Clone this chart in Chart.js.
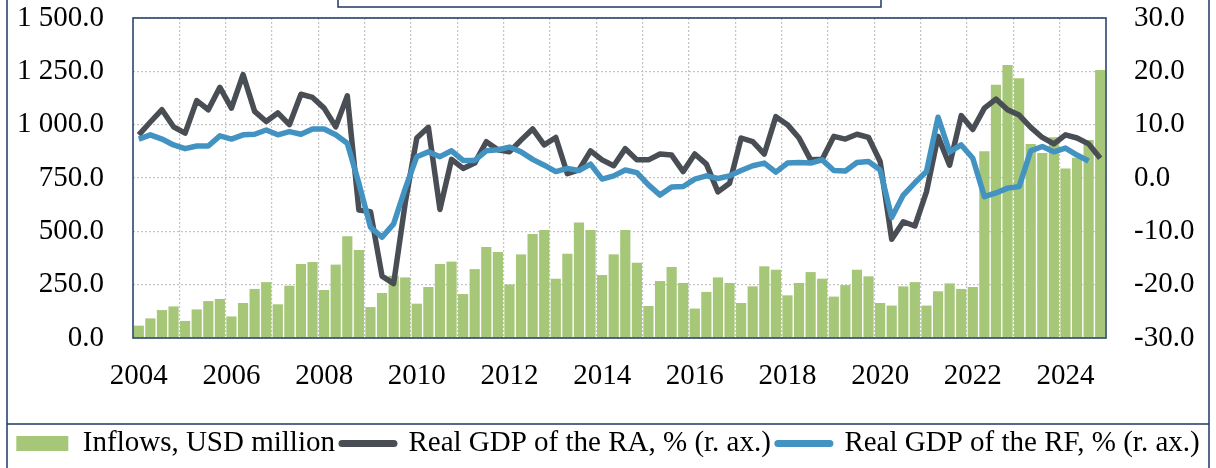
<!DOCTYPE html>
<html>
<head>
<meta charset="utf-8">
<script src="https://cdn.jsdelivr.net/npm/chart.js@4.4.1/dist/chart.umd.min.js"></script>
<style>
  body { margin: 0; background: #fff; }
  #wrap { width: 1216px; height: 468px; }
</style>
</head>
<body>
<div id="wrap"><canvas id="myChart" width="1216" height="468"></canvas></div>
<script>
// years shown on the axis, one category per quarter
var years = [2004, 2005, 2006, 2007, 2008, 2009, 2010, 2011, 2012, 2013, 2014,
             2015, 2016, 2017, 2018, 2019, 2020, 2021, 2022, 2023, 2024];

// Inflows, USD million (left axis)
var inflows = [
  58, 92, 131, 148,     80, 134, 173, 183,    101, 164, 230, 262,
  158, 245, 347, 356,   225, 344, 477, 412,   145, 211, 292, 284,
  161, 239, 347, 358,   206, 323, 427, 403,   251, 392, 487, 506,
  278, 395, 541, 506,   295, 392, 506, 353,   150, 267, 333, 258,
  138, 216, 284, 258,   164, 242, 336, 320,   200, 258, 309, 278,
  194, 248, 320, 289,   164, 152, 242, 262,   152, 219, 256, 230,
  239, 875, 1187, 1280, 1217, 909, 867, 941,  794, 845, 928, 1256
];

// Real GDP of the RA, % (right axis)
var gdpRA = [
  8.1, 10.5, 12.8, 9.6,   8.4, 14.5, 12.8, 17.0,   13.1, 19.4, 12.5, 10.6,
  12.2, 10.0, 15.7, 15.1, 13.1, 9.6, 15.4, -6.0,   -6.3, -18.4, -19.8, -4.7,
  7.5, 9.5, -5.9, 3.5,    1.8, 2.8, 6.8, 5.3,      4.9, 7.1, 9.2, 6.2,
  7.6, 0.8, 1.5, 5.1,     3.4, 2.3, 5.5, 3.4,      3.4, 4.5, 4.3, 1.2,
  4.5, 2.6, -2.6, -1.0,   7.5, 6.8, 4.5, 11.5,     10.0, 7.5, 3.4, 3.5,
  7.8, 7.3, 8.2, 7.6,     3.1, -11.5, -8.2, -9.0,  -2.6, 7.8, 2.4, 11.7,
  9.1, 13.1, 14.8, 12.8,  11.8, 9.5, 7.6, 6.4,     8.1, 7.5, 6.4, 3.7
];

// Real GDP of the RF, % (right axis)
var gdpRF = [
  7.3, 8.1, 7.3, 6.2,     5.5, 6.0, 6.0, 7.9,      7.3, 8.1, 8.2, 9.0,
  8.1, 8.7, 8.2, 9.2,     9.2, 8.1, 6.5, -1.0,     -9.2, -11.1, -8.6, -2.0,
  4.0, 4.9, 4.0, 5.1,     3.3, 3.3, 5.1, 5.3,      5.8, 4.9, 3.5, 2.4,
  1.2, 1.8, 1.4, 2.6,     -0.2, 0.4, 1.5, 1.0,     -1.3, -3.2, -1.7, -1.6,
  -0.2, 0.4, -0.1, 0.4,   1.4, 2.3, 2.8, 1.1,      2.8, 2.9, 2.8, 3.4,
  1.4, 1.3, 2.9, 3.1,     1.5, -7.4, -3.2, -0.9,   1.2, 11.4, 4.9, 6.2,
  3.7, -3.5, -2.8, -1.9,  -1.6, 5.1, 5.9, 4.9,     5.6, 4.3, 3.2, null
];

var labels = [];
years.forEach(function(y) {
  for (var q = 1; q <= 4; q++) labels.push(y + ' Q' + q);
});

var green = 'rgb(166,199,120)';
var dark = 'rgb(72,78,84)';
var blue = 'rgb(66,146,194)';
var navy = '#203864';
var serif = "'Liberation Serif', 'Times New Roman', serif";

// frame lines around the figure and the plot border
var framePlugin = {
  id: 'frame',
  afterDraw: function(chart) {
    var ctx = chart.ctx;
    var a = chart.chartArea;
    ctx.save();
    ctx.strokeStyle = navy;
    ctx.lineWidth = 1.5;
    ctx.strokeRect(a.left, a.top, a.right - a.left, a.bottom - a.top);
    ctx.beginPath();
    ctx.moveTo(7, 0); ctx.lineTo(7, 468);
    ctx.moveTo(1209, 0); ctx.lineTo(1209, 468);
    ctx.moveTo(7, 424); ctx.lineTo(1209, 424);
    ctx.stroke();
    ctx.strokeRect(338, -5, 543, 12);
    ctx.restore();
  }
};

function fmt(v) {
  var s = v.toFixed(1);
  var parts = s.split('.');
  var whole = parts[0].replace(/\B(?=(\d{3})+(?!\d))/g, ' ');
  return whole + '.' + parts[1];
}

// no extra room for tick labels, the plot box is placed by hand
function noPad(scale) {
  scale.paddingTop = 0;
  scale.paddingBottom = 0;
  scale.paddingLeft = 0;
  scale.paddingRight = 0;
}

var ctx = document.getElementById('myChart').getContext('2d');
var chart = new Chart(ctx, {
  data: {
    labels: labels,
    datasets: [{
      type: 'bar',
      label: 'Inflows, USD million',
      data: inflows,
      backgroundColor: green,
      yAxisID: 'y',
      order: 2,
      categoryPercentage: 1,
      barPercentage: 0.88
    }, {
      type: 'line',
      label: 'Real GDP of the RA, % (r. ax.)',
      data: gdpRA,
      borderColor: dark,
      borderWidth: 5.5,
      pointRadius: 0,
      tension: 0,
      borderJoinStyle: 'round',
      yAxisID: 'y1',
      order: 1
    }, {
      type: 'line',
      label: 'Real GDP of the RF, % (r. ax.)',
      data: gdpRF,
      borderColor: blue,
      borderWidth: 5.5,
      pointRadius: 0,
      tension: 0,
      borderJoinStyle: 'round',
      yAxisID: 'y1',
      order: 0
    }]
  },
  options: {
    responsive: false,
    animation: false,
    layout: { padding: { top: 18, left: 0, right: 0, bottom: 0 } },
    plugins: {
      tooltip: { enabled: false },
      legend: {
        position: 'bottom',
        labels: {
          font: { family: serif, size: 29 },
          color: '#000',
          padding: 7,
          usePointStyle: true,
          pointStyleWidth: 52,
          boxHeight: 15,
          generateLabels: function(chart) {
            return chart.data.datasets.map(function(ds, i) {
              var isBar = ds.type === 'bar';
              return {
                text: ds.label,
                datasetIndex: i,
                fillStyle: isBar ? green : ds.borderColor,
                strokeStyle: isBar ? green : ds.borderColor,
                lineWidth: isBar ? 0 : 7,
                lineCap: 'round',
                pointStyle: isBar ? 'rect' : 'line',
                fontColor: '#000',
                hidden: false
              };
            });
          }
        }
      }
    },
    scales: {
      x: {
        grid: {
          drawTicks: false,
          lineWidth: 1.2,
          color: function(c) {
            if (c.index === undefined || c.index === 0) return 'rgba(0,0,0,0)';
            return c.index % 4 === 0 ? '#c4c4c4' : 'rgba(0,0,0,0)';
          }
        },
        border: { display: false, dash: [2, 2] },
        ticks: {
          autoSkip: false,
          maxRotation: 0,
          padding: 21,
          color: '#000',
          font: { family: serif, size: 29 },
          callback: function(v, i) {
            return i % 8 === 0 ? this.getLabelForValue(v).slice(0, 4) : '';
          }
        },
        afterFit: function(scale) {
          noPad(scale);
          var lg = scale.chart.legend ? scale.chart.legend.height : 42;
          scale.height = 468 - 338 - lg;
        }
      },
      y: {
        position: 'left',
        min: 0,
        max: 1500,
        grid: { drawTicks: false, color: '#c4c4c4', lineWidth: 1.2 },
        border: { display: false, dash: [2, 2] },
        ticks: {
          stepSize: 250,
          padding: 29,
          color: '#000',
          font: { family: serif, size: 29 },
          callback: function(v) { return fmt(v); }
        },
        afterFit: function(scale) { noPad(scale); scale.width = 133; }
      },
      y1: {
        position: 'right',
        min: -30,
        max: 30,
        grid: { drawOnChartArea: false, drawTicks: false },
        border: { display: false },
        ticks: {
          stepSize: 10,
          padding: 28,
          color: '#000',
          font: { family: serif, size: 29 },
          callback: function(v) { return v.toFixed(1); }
        },
        afterFit: function(scale) { noPad(scale); scale.width = 110; }
      }
    }
  },
  plugins: [framePlugin]
});
</script>
</body>
</html>
